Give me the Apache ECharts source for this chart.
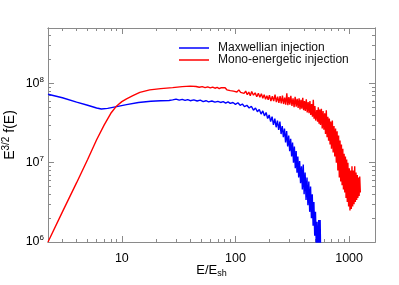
<!DOCTYPE html>
<html><head><meta charset="utf-8">
<script src="https://cdn.jsdelivr.net/npm/echarts@6/dist/echarts.min.js"></script>
<style>html,body{margin:0;padding:0;background:#fff}#c{width:399px;height:285px}</style>
</head><body><div id="c"></div>
<script>
// ---- data ----
const seriesNames = ['Maxwellian injection', 'Mono-energetic injection'];
const maxwellE = [2.24,3,4,5,6,6.6,7.5,9,11,14,18,22,26,
 28,30,32,34,36,38,40,43,46,49,52,55,58,62,66,70,74,78,82,86,90,95,100,105,110,115,120,126,132,138,144,150,156,162,168,174,180,186,192,198,204,210,216,222,228,234,240,246,252,258,264,270,276,282,288,294,300,306,312,318,324,330,336,342,348,354,360,367,374,381,388,395,402,410,418,426,434,442,450,458,466,474,482,490,498,506,514,522,530,540,548,556,564];
const maxwellF = [7.3e7,6.6e7,5.8e7,5.3e7,4.9e7,4.75e7,4.85e7,5.1e7,5.4e7,5.75e7,5.95e7,6.05e7,6.1e7,
 6.2e7,6.35e7,6.15e7,6.3e7,6.1e7,6.25e7,6.05e7,6.2e7,6.0e7,6.15e7,5.9e7,6.05e7,5.85e7,6.0e7,5.8e7,5.95e7,5.75e7,5.9e7,5.65e7,5.85e7,5.6e7,5.75e7,5.45e7,5.7e7,5.3e7,5.5e7,5.1e7,5.3e7,4.9e7,5.15e7,4.6e7,4.9e7,4.4e7,4.7e7,4.1e7,4.5e7,3.9e7,4.3e7,3.6e7,4.0e7,3.3e7,3.8e7,3.0e7,3.6e7,2.8e7,3.4e7,2.6e7,3.3e7,2.3e7,2.9e7,2.1e7,2.7e7,1.8e7,2.5e7,1.6e7,2.2e7,1.4e7,2.0e7,1.2e7,1.8e7,1.0e7,1.6e7,8.5e6,1.4e7,7.5e6,1.2e7,6.5e6,1.05e7,5.5e6,9e6,4.6e6,9.5e6,4.0e6,7.5e6,3.4e6,6.5e6,2.9e6,5.8e6,2.4e6,5e6,2.0e6,4e6,1.6e6,3.2e6,1.2e6,2.4e6,0.9e6,1.8e6,0.7e6,1.9e6,0.6e6,1.9e6,0.5e6];
const monoE = [2.24,3,4,5,6,7,8,9,10,11,12.5,14.4,17.6,22,28,34,40,
 45,48,51,54,57,60,63,66,69,72,75,78,81,84,87,90,93,96,99,103,107,111,115,119,123,127,131,135,139,144,149,154,159,164,169,174,179,184,189,194,199,205,211,217,223,229,235,241,247,253,259,265,271,277,283,289,295,301,307,314,321,328,335,342,349,356,363,370,377,384,391,398,405,412,420,428,436,444,452,460,468,476,484,492,500,508,
 520,528,536,544,552,560,570,580,590,600,610,620,630,640,650,660,670,680,690,700,712,724,736,748,760,772,784,796,808,820,832,844,856,868,880,892,904,916,928,940,952,964,976,990,1004,1018,1032,1046,1060,1075,1090,1105,1120,1135,1150,1165,1180,1195,1210,1225,1240,1255];
const monoF = [1.0e6,2.4e6,5.6e6,1.1e7,1.95e7,3.0e7,4.2e7,5.2e7,5.9e7,6.4e7,7.0e7,7.7e7,8.3e7,8.6e7,8.85e7,9.1e7,9.25e7,
 9.15e7,8.95e7,9.1e7,8.85e7,9.05e7,8.8e7,9.0e7,8.7e7,8.9e7,8.6e7,8.85e7,8.5e7,8.8e7,8.3e7,8.6e7,8.1e7,8.5e7,8.0e7,8.4e7,7.8e7,8.3e7,7.7e7,8.1e7,7.5e7,8.0e7,7.2e7,7.8e7,7.0e7,7.9e7,7.1e7,7.6e7,6.8e7,7.5e7,6.7e7,7.4e7,6.5e7,7.2e7,6.3e7,7.0e7,6.2e7,7.1e7,6.0e7,6.9e7,6.0e7,7.2e7,5.8e7,6.8e7,5.7e7,6.9e7,5.6e7,7.0e7,5.5e7,6.6e7,5.4e7,7.5e7,5.3e7,6.7e7,5.4e7,7.0e7,5.2e7,6.5e7,5.0e7,6.8e7,5.1e7,6.4e7,4.9e7,6.5e7,4.7e7,6.2e7,4.8e7,6.6e7,4.6e7,6.0e7,4.5e7,6.3e7,4.3e7,5.8e7,4.2e7,6.0e7,4.0e7,5.5e7,3.8e7,6.2e7,3.6e7,5.2e7,3.4e7,
 4.6e7,3.3e7,5.0e7,3.1e7,4.7e7,3.0e7,4.8e7,2.7e7,4.5e7,2.6e7,4.2e7,2.3e7,4.6e7,2.1e7,3.8e7,1.9e7,3.6e7,1.7e7,3.3e7,1.5e7,3.4e7,1.35e7,2.9e7,1.2e7,2.7e7,1.0e7,2.5e7,8e6,2.2e7,6.5e6,1.9e7,5.8e6,1.7e7,5.2e6,1.5e7,4.6e6,1.3e7,4.2e6,1.2e7,3.6e6,1.1e7,3.2e6,1.0e7,2.8e6,8.5e6,2.5e6,8e6,2.6e6,9e6,2.8e6,8e6,3e6,9e6,3.2e6,7.5e6,3.4e6,7e6,3.6e6,6.5e6,3.8e6,6.7e6,4.2e6];
const xMajorTicks = [10, 100, 1000];
const xMinorTicks = [3,4,5,6,7,8,9,20,30,40,50,60,70,80,90,200,300,400,500,600,700,800,900];
const yMajorTicks = [1e6, 1e7, 1e8];
const yMinorTicks = [2e6,3e6,4e6,5e6,6e6,7e6,8e6,9e6,2e7,3e7,4e7,5e7,6e7,7e7,8e7,9e7,2e8,3e8,4e8];
const xRange = [2.24, 1690];
const yRange = [1e6, 5e8];

// ---- chart ----
const AX = '#8a8a8a';
const FONT = 'Liberation Sans';
function xAx(pos, ticks, len, labels) {
  return {
    type: 'log', logBase: 10, position: pos, min: xRange[0], max: xRange[1],
    axisLine: {show: true, lineStyle: {color: AX, width: 1}},
    axisTick: {show: true, inside: true, length: len, customValues: ticks, lineStyle: {color: AX}},
    axisLabel: labels ? {show: true, customValues: xMajorTicks, color: '#000', fontFamily: FONT, fontSize: 12.5, margin: 10,
      formatter: v => String(Math.round(v))} : {show: false},
    splitLine: {show: false}, minorTick: {show: false},
    name: labels ? '{m|E/E}{s|sh}' : '', nameLocation: 'middle', nameGap: 20, nameMoveOverlap: false,
    nameTextStyle: {rich: {m: {fontFamily: FONT, fontSize: 13, color: '#000'}, s: {fontFamily: FONT, fontSize: 9, color: '#000', padding: [7,0,0,0]}}}
  };
}
function yAx(pos, ticks, len, labels) {
  return {
    type: 'log', logBase: 10, position: pos, min: yRange[0], max: yRange[1],
    axisLine: {show: true, lineStyle: {color: AX, width: 1}},
    axisTick: {show: true, inside: true, length: len, customValues: ticks, lineStyle: {color: AX}},
    axisLabel: labels ? {show: true, customValues: yMajorTicks, margin: 4,
      formatter: v => '{b|10}{s|' + Math.round(Math.log10(v)) + '}',
      rich: {b: {fontFamily: FONT, fontSize: 12.5, color: '#000'}, s: {fontFamily: FONT, fontSize: 8, color: '#000', padding: [0,0,8,0]}}} : {show: false},
    splitLine: {show: false}, minorTick: {show: false},
    name: labels ? '{m|E}{s|3/2}{m| f(E)}' : '', nameLocation: 'middle', nameGap: 29, nameRotate: 90, nameMoveOverlap: false,
    nameTextStyle: {rich: {m: {fontFamily: FONT, fontSize: 14, color: '#000'}, s: {fontFamily: FONT, fontSize: 10, color: '#000', padding: [0,0,8,0]}}}
  };
}
const chart = echarts.init(document.getElementById('c'), null, {renderer: 'canvas'});
chart.setOption({
  animation: false,
  backgroundColor: '#fff',
  grid: {left: 48, top: 28, right: 24, bottom: 43, containLabel: false, outerBoundsMode: 'none'},
  legend: {
    left: 179, top: 42, orient: 'vertical', icon: 'rect', itemWidth: 30, itemHeight: 1.5, itemGap: 0, padding: 0,
    textStyle: {fontFamily: FONT, fontSize: 12, color: '#111', lineHeight: 12, padding: [0,0,0,4]},
    data: seriesNames
  },
  xAxis: [xAx('bottom', xMajorTicks, 6, true), xAx('bottom', xMinorTicks, 3, false), xAx('top', xMajorTicks, 6, false), xAx('top', xMinorTicks, 3, false)],
  yAxis: [yAx('left', yMajorTicks, 6, true), yAx('left', yMinorTicks, 3, false), yAx('right', yMajorTicks, 6, false), yAx('right', yMinorTicks, 3, false)],
  series: [
    {name: seriesNames[0], type: 'line', xAxisIndex: 0, yAxisIndex: 0, showSymbol: false, symbol: 'none', clip: true,
     lineStyle: {color: '#0000ff', width: 1.4}, itemStyle: {color: '#0000ff'},
     data: maxwellE.map((e, i) => [e, maxwellF[i]])},
    {name: seriesNames[1], type: 'line', xAxisIndex: 0, yAxisIndex: 0, showSymbol: false, symbol: 'none', clip: true,
     lineStyle: {color: '#ff0000', width: 1.4}, itemStyle: {color: '#ff0000'},
     data: monoE.map((e, i) => [e, monoF[i]])}
  ]
});
</script></body></html>
